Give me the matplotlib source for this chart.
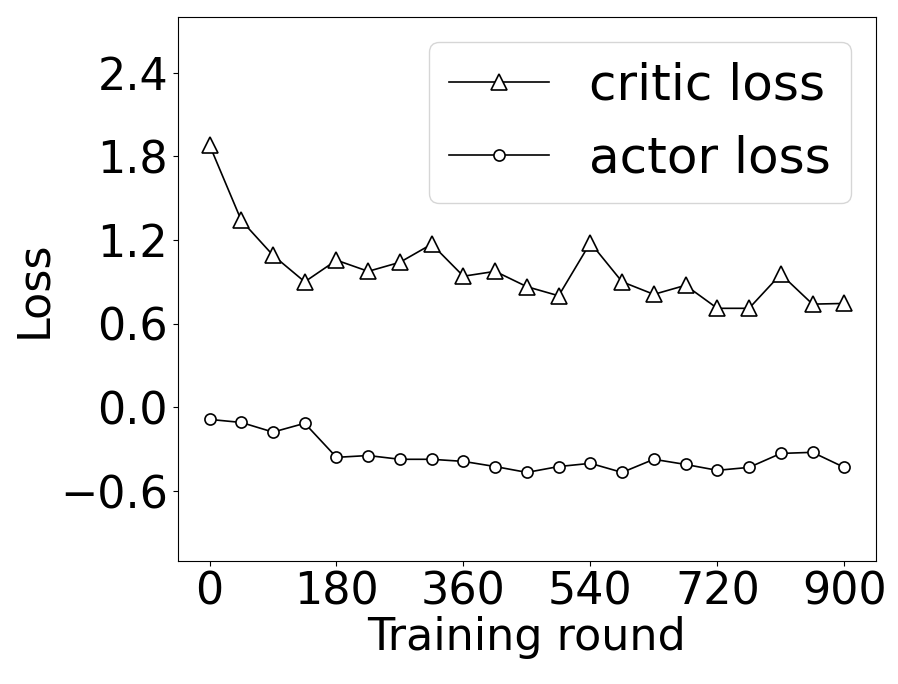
import matplotlib
matplotlib.use('Agg')
import matplotlib.pyplot as plt
import numpy as np

# training rounds (every 45)
rounds = list(range(0, 901, 45))

critic_loss = [1.88, 1.34, 1.09, 0.90, 1.055, 0.975, 1.04, 1.17, 0.94, 0.975, 0.865,
               0.80, 1.18, 0.90, 0.81, 0.875, 0.71, 0.71, 0.955, 0.74, 0.745]
actor_loss = [-0.086, -0.108, -0.177, -0.114, -0.358, -0.345, -0.372, -0.372, -0.387, -0.424, -0.466,
              -0.424, -0.401, -0.466, -0.372, -0.409, -0.451, -0.43, -0.33, -0.322, -0.43]

xticks = [0, 180, 360, 540, 720, 900]
yticks = [-0.6, 0.0, 0.6, 1.2, 1.8, 2.4]

fig = plt.figure(figsize=(8.98, 6.84), dpi=100)
ax = fig.add_axes([0.198, 0.18, 0.7775, 0.7956])

ax.plot(rounds, critic_loss, color='black', lw=1.2, marker='^', ms=11,
        mfc='white', mec='black', mew=1.2, label='critic loss')
ax.plot(rounds, actor_loss, color='black', lw=1.2, marker='o', ms=8,
        mfc='white', mec='black', mew=1.2, label='actor loss')

ax.set_xlim(-45, 945)
ax.set_ylim(-1.1, 2.8)
ax.set_xticks(xticks)
ax.set_yticks(yticks)
ax.tick_params(labelsize=32)
ax.set_xlabel('Training round', fontsize=32, labelpad=2)
ax.set_ylabel('Loss', fontsize=32)
ax.legend(fontsize=36, loc='upper right')

fig.savefig('out.png', dpi=100)
